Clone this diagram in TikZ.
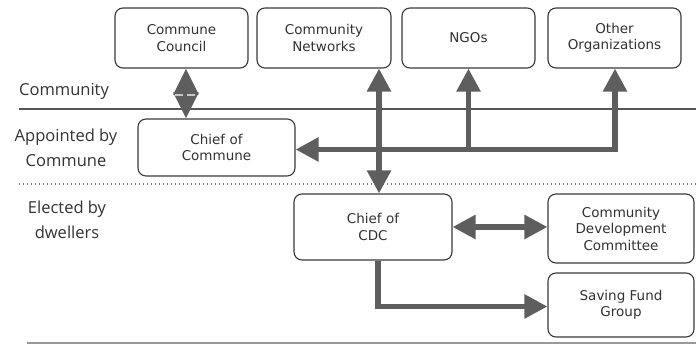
\documentclass[tikz,border=0pt]{standalone}
\usepackage{fontspec}
\setmainfont{DejaVu Sans}
\newfontfamily\lblfamily{Open Sans}
\usetikzlibrary{arrows.meta}
\definecolor{arrowgray}{HTML}{5E5E5E}
\definecolor{boxline}{HTML}{3A3A3A}
\definecolor{textgray}{HTML}{333333}
\definecolor{rulegray}{HTML}{555555}
\newcommand\boxfont{\fontsize{13.5}{16.5}\selectfont}
\newcommand\lblfont{\lblfamily\fontsize{16.5}{25}\selectfont}
\begin{document}
\begin{tikzpicture}[x=1pt,y=-1pt,
  box/.style={draw=boxline,line width=1.1pt,rounded corners=8pt,fill=white,align=center,text=textgray,font=\boxfont,inner sep=0pt},
  conn/.style={draw=arrowgray,line width=5.5pt},
  bigtip/.tip={Triangle[width=23pt,length=23pt]},
  diamtip/.tip={Triangle[width=24pt,length=26pt]},
  lbl/.style={text=textgray,font=\lblfont,align=center,inner sep=0pt},
  rule/.style={draw=rulegray,line width=1.5pt},
  dotrule/.style={draw=rulegray!80,line width=1.3pt,dash pattern=on 1.3pt off 2.7pt},
  lightrule/.style={draw=gray!80,line width=1.3pt},
  dashline/.style={draw=gray!45,line width=2pt,dash pattern=on 8pt off 4pt}]
\useasboundingbox (0,0) rectangle (696,344);
% rules
\coordinate (r1a) at (19,109); \coordinate (r1b) at (696,109);
\coordinate (r2a) at (19,184); \coordinate (r2b) at (696,184);
\coordinate (r3a) at (27,343); \coordinate (r3b) at (696,343);
\draw[rule] (r1a) -- (r1b);
\draw[dotrule] (r2a) -- (r2b);
\draw[lightrule] (r3a) -- (r3b);
% labels
\node[lbl,anchor=west] (lc) at (19,91) {Community};
\node[lbl] (lap) at (66,148) {Appointed by\\Commune};
\node[lbl] (lel) at (67,220) {Elected by\\dwellers};
% boxes
\node[box,minimum width=133pt,minimum height=60pt] (cc) at (181.5,38) {Commune\\Council};
\node[box,minimum width=134pt,minimum height=60pt] (cn) at (324,38) {Community\\Networks};
\node[box,minimum width=133pt,minimum height=60pt] (ngo) at (468.5,38) {NGOs};
\node[box,minimum width=133pt,minimum height=60pt] (oo) at (614.5,38) {Other\\Organizations};
\node[box,minimum width=157pt,minimum height=57pt] (coc) at (216.5,147.5) {Chief of\\Commune};
\node[box,minimum width=158pt,minimum height=66pt] (ccdc) at (373,227) {Chief of\\CDC};
\node[box,minimum width=146pt,minimum height=69pt] (cdc) at (621,228.5) {Community\\Development\\Committee};
\node[box,minimum width=146pt,minimum height=64pt] (sfg) at (621,305) {Saving Fund\\Group};
% connectors
\coordinate (a1) at ([xshift=4.5pt]cc.south);
\coordinate (a2) at (a1 |- coc.north);
\draw[conn,{diamtip}-{diamtip}] (a1) -- (a2);
\coordinate (d1) at (175,95); \coordinate (d2) at (198,95);
\draw[dashline] (d1) -- (d2);
\coordinate (b1) at ([xshift=55pt]cn.south);
\coordinate (b2) at (b1 |- ccdc.north);
\draw[conn,{bigtip}-{bigtip}] (b1) -- (b2);
\coordinate (h1) at ([xshift=0.5pt]oo.south);
\coordinate (h2) at ([yshift=-2pt]coc.east);
\draw[conn,{bigtip}-{bigtip}] (h1) |- (h2);
\coordinate (n1) at (ngo.south |- h2);
\draw[conn,-{bigtip}] (n1) -- (ngo.south);
\coordinate (c2) at (cdc.west |- ccdc.east);
\draw[conn,{bigtip}-{bigtip}] (ccdc.east) -- (c2);
\coordinate (s1) at ([xshift=5pt]ccdc.south);
\coordinate (s2) at ([yshift=-1.5pt]sfg.west);
\draw[conn,-{bigtip}] (s1) |- (s2);
\end{tikzpicture}
\end{document}
